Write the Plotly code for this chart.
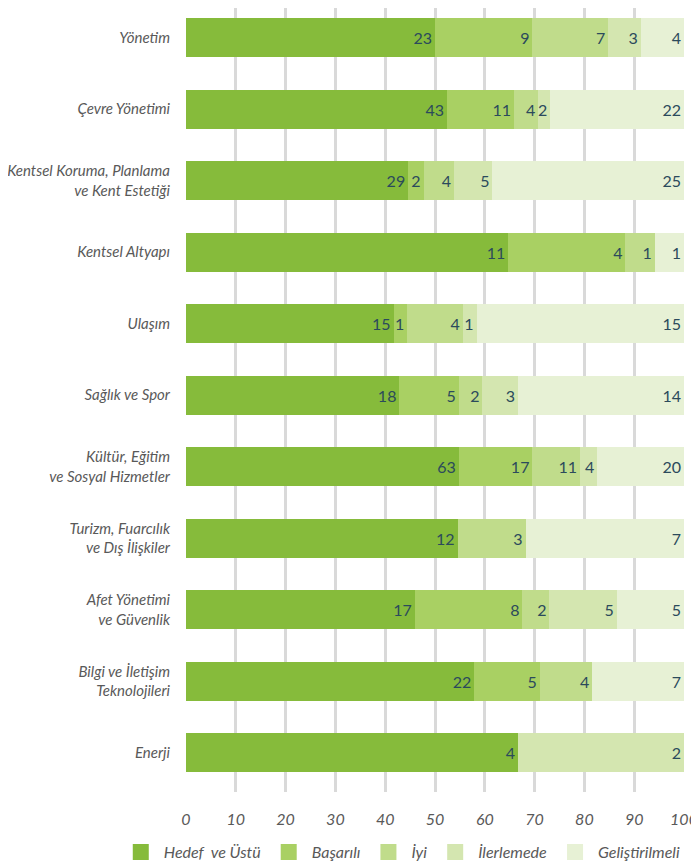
import plotly.graph_objects as go

categories = [
    "Yönetim",
    "Çevre Yönetimi",
    "Kentsel Koruma, Planlama<br>ve Kent Estetiği",
    "Kentsel Altyapı",
    "Ulaşım",
    "Sağlık ve Spor",
    "Kültür, Eğitim<br>ve Sosyal Hizmetler",
    "Turizm, Fuarcılık<br>ve Dış İlişkiler",
    "Afet Yönetimi<br>ve Güvenlik",
    "Bilgi ve İletişim<br>Teknolojileri",
    "Enerji",
]

hedef = [23, 43, 29, 11, 15, 18, 63, 12, 17, 22, 4]
basarili = [9, 11, 2, 4, 1, 5, 17, 0, 8, 5, 0]
iyi = [7, 4, 4, 1, 4, 2, 11, 3, 2, 4, 0]
ilerlemede = [3, 2, 5, 0, 1, 3, 4, 0, 5, 0, 2]
gelistirilmeli = [4, 22, 25, 1, 15, 14, 20, 7, 5, 7, 0]

series = [
    ("Hedef  ve Üstü", hedef, "#86bb3b"),
    ("Başarılı", basarili, "#a9d063"),
    ("İyi", iyi, "#c0dc8b"),
    ("İlerlemede", ilerlemede, "#d4e6b0"),
    ("Geliştirilmeli", gelistirilmeli, "#e7f1d5"),
]

fig = go.Figure()
for name, vals, color in series:
    fig.add_trace(go.Bar(
        y=categories,
        x=vals,
        name=name,
        orientation="h",
        marker=dict(color=color, line=dict(width=0)),
        width=0.545,
        text=[str(v) if v else "" for v in vals],
        textposition="inside",
        insidetextanchor="end",
        textangle=0,
        constraintext="none",
        textfont=dict(family="Lato", size=16, color="#2b4a5c"),
        hoverinfo="name+text",
        showlegend=False,
    ))

# legend entries with bigger square swatches
for name, vals, color in series:
    fig.add_trace(go.Scatter(
        x=[None],
        y=[None],
        mode="markers",
        name=name,
        marker=dict(symbol="square", size=16, color=color, line=dict(width=0)),
        showlegend=True,
    ))

fig.update_layout(
    width=699,
    height=868,
    barmode="stack",
    barnorm="percent",
    plot_bgcolor="white",
    paper_bgcolor="white",
    margin=dict(l=178, r=23, t=0, b=84),
    font=dict(family="Lato", color="#595959"),
    showlegend=True,
    legend=dict(
        orientation="h",
        x=-0.137,
        xanchor="left",
        y=-0.055,
        yanchor="top",
        font=dict(size=16, style="italic", color="#595959"),
        traceorder="normal",
        itemwidth=36,
    ),
)

fig.update_xaxes(
    range=[0, 100],
    dtick=10,
    showgrid=True,
    gridcolor="#d9d9d9",
    gridwidth=2.5,
    zeroline=False,
    showline=False,
    automargin=False,
    tickfont=dict(size=16, style="italic", color="#595959"),
    ticklabelstandoff=16,
    fixedrange=True,
)

fig.update_yaxes(
    range=[10.552, -0.413],
    showgrid=False,
    automargin=False,
    tickfont=dict(size=15, style="italic", color="#595959"),
    ticklabelstandoff=15,
)

fig.write_html("out.html")
